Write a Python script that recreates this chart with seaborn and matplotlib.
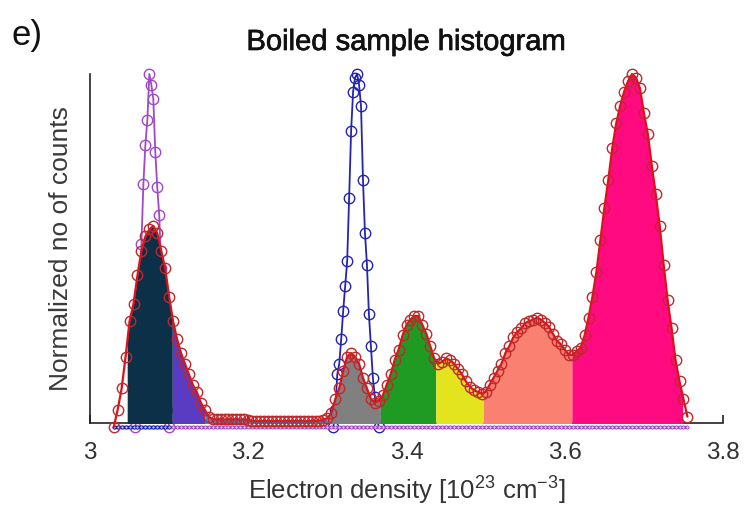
import numpy as np
import matplotlib
matplotlib.use("Agg")
import matplotlib.pyplot as plt
import matplotlib.patheffects as pe
import seaborn as sns

# Histogram of electron density (normalized counts), bin width 0.005
bin_start, bin_step = 3.030, 0.005
counts = [
    0.00, 0.05, 0.11, 0.20, 0.30, 0.35, 0.43, 0.50, 0.54, 0.56,
    0.57, 0.55, 0.50, 0.45, 0.37, 0.30, 0.25, 0.21, 0.18, 0.15,
    0.12, 0.10, 0.07, 0.05, 0.03, 0.023, 0.022, 0.023, 0.022, 0.023,
    0.022, 0.023, 0.022, 0.022, 0.021, 0.018, 0.017, 0.017, 0.018, 0.017,
    0.017, 0.018, 0.017, 0.017, 0.018, 0.017, 0.017, 0.018, 0.017, 0.017,
    0.018, 0.018, 0.019, 0.021, 0.026, 0.04, 0.08, 0.11, 0.16, 0.20,
    0.21, 0.20, 0.18, 0.14, 0.11, 0.08, 0.07, 0.075, 0.09, 0.12,
    0.15, 0.19, 0.22, 0.26, 0.29, 0.305, 0.315, 0.315, 0.29, 0.265,
    0.23, 0.195, 0.18, 0.185, 0.195, 0.19, 0.18, 0.165, 0.15, 0.13,
    0.115, 0.105, 0.10, 0.095, 0.10, 0.12, 0.14, 0.16, 0.18, 0.21,
    0.23, 0.255, 0.27, 0.28, 0.295, 0.30, 0.305, 0.31, 0.305, 0.295,
    0.285, 0.265, 0.245, 0.235, 0.22, 0.205, 0.205, 0.215, 0.225, 0.26,
    0.31, 0.37, 0.44, 0.53, 0.62, 0.70, 0.79, 0.86, 0.91, 0.95,
    0.98, 1.00, 0.99, 0.96, 0.89, 0.83, 0.74, 0.66, 0.57, 0.46,
    0.36, 0.28, 0.19, 0.13, 0.08, 0.03,
]
density = np.round(bin_start + bin_step * np.arange(len(counts)), 4)

# Density ranges shaded under the histogram
band_edges = [3.047, 3.104, 3.145, 3.300, 3.367, 3.437, 3.497, 3.609, 3.749]
band_colors = ["#0b3048", "#5a3cc2", "#3c8dd8", "#808080",
               "#1f9a22", "#e4e41e", "#fa8072", "#ff0a80"]

# Reference peaks (normalized)
ref1_x = [3.0575, 3.060, 3.0625, 3.065, 3.0675, 3.070, 3.0725, 3.075, 3.0775,
          3.080, 3.0825, 3.085, 3.0875, 3.090, 3.0925, 3.095, 3.0975, 3.100]
ref1_y = [0.0, 0.10, 0.30, 0.52, 0.69, 0.80, 0.87, 1.00, 0.97,
          0.93, 0.78, 0.68, 0.60, 0.45, 0.30, 0.15, 0.05, 0.0]
ref2_x = [3.3075, 3.310, 3.3125, 3.315, 3.3175, 3.320, 3.3225, 3.325, 3.3275,
          3.330, 3.3325, 3.335, 3.3375, 3.340, 3.3425, 3.345, 3.3475, 3.350,
          3.3525, 3.355, 3.3575, 3.360, 3.3625, 3.365]
ref2_y = [0.0, 0.05, 0.15, 0.18, 0.25, 0.33, 0.40, 0.47, 0.65,
          0.84, 0.95, 0.99, 1.00, 0.97, 0.91, 0.70, 0.55, 0.46,
          0.32, 0.23, 0.14, 0.086, 0.03, 0.0]

xticks = [3.0, 3.2, 3.4, 3.6, 3.8]
xtick_labels = ["3", "3.2", "3.4", "3.6", "3.8"]

sns.set_theme(style="white")
plt.rcParams["font.family"] = ["Liberation Sans", "DejaVu Sans"]
plt.rcParams["mathtext.fontset"] = "custom"
plt.rcParams["mathtext.rm"] = "Liberation Sans"

fig = plt.figure(figsize=(7.45, 5.11), dpi=100)
ax = fig.add_axes([0.1208, 0.1722, 0.8497, 0.6830])

# Reference peaks sit behind the shaded histogram
sns.lineplot(x=ref1_x, y=ref1_y, ax=ax, color="#a048c8", lw=1.3,
             marker="o", markersize=7.5, markerfacecolor="none",
             markeredgecolor="#a048c8", markeredgewidth=1.0,
             clip_on=False, zorder=0.8)
sns.lineplot(x=ref2_x, y=ref2_y, ax=ax, color="#2424b0", lw=1.3,
             marker="o", markersize=7.5, markerfacecolor="none",
             markeredgecolor="#2424b0", markeredgewidth=1.0,
             clip_on=False, zorder=0.8)

# Coloured bands under the histogram
for (a, b), col in zip(zip(band_edges[:-1], band_edges[1:]), band_colors):
    inside = (density > a) & (density < b)
    xs = np.concatenate([[a], density[inside], [b]])
    ys = np.interp(xs, density, counts)
    ax.fill_between(xs, 0, ys, color=col, lw=0, zorder=1)

# Zero baseline of the reference peaks
zeros = np.zeros_like(density)
ax.plot(density, zeros, color="#a048c8", lw=2.4, marker="o", ms=2.2,
        mfc="#e8d0f0", mec="#a048c8", mew=0.6, clip_on=False, zorder=2)
left = density <= 3.10
ax.plot(density[left], zeros[left], color="#2020b0", lw=2.4, marker="o", ms=2.2,
        mfc="#d0d0f0", mec="#2020b0", mew=0.6, clip_on=False, zorder=2)

sns.lineplot(x=density, y=counts, ax=ax, color="#e0101a", lw=1.6,
             marker="o", markersize=7.5, markerfacecolor="none",
             markeredgecolor="#c0282a", markeredgewidth=1.0,
             clip_on=False, zorder=3)

ax.set_xlim(3.0, 3.8)
ax.set_ylim(0.012, 1.0)
ax.set_xticks(xticks)
ax.set_xticklabels(xtick_labels)
ax.set_yticks([])
ax.tick_params(axis="x", direction="in", length=6, width=1.2, color="#222222",
               labelsize=17.5, labelcolor="#333333", pad=14, bottom=True)
for side in ("top", "right"):
    ax.spines[side].set_visible(False)
for side in ("left", "bottom"):
    ax.spines[side].set_color("#222222")
    ax.spines[side].set_linewidth(1.2)
    ax.spines[side].set_zorder(0.5)

ax.set_xlabel("Electron density [10$^{23}$ cm$^{-3}$]", fontsize=18.5,
              color="#333333", labelpad=6)
ax.set_ylabel("Normalized no of counts", fontsize=19, color="#3a3a3a",
              labelpad=12)
fig.text(406 / 745, 1 - 42 / 511, "Boiled sample histogram", fontsize=21,
         color="#111111", ha="center", va="center",
         path_effects=[pe.withStroke(linewidth=0.5, foreground="#111111")])
fig.text(0.016, 1 - 36 / 511, "e)", fontsize=25, color="#111111", va="center")

fig.savefig("out.png", dpi=100)
